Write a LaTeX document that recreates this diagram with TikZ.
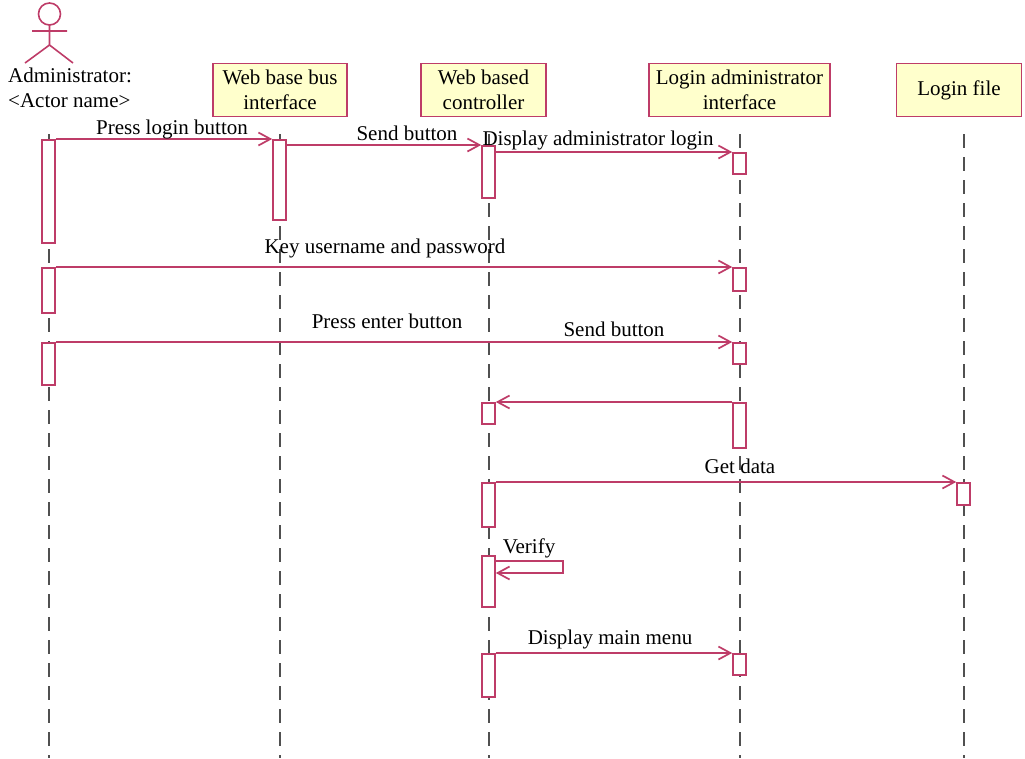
\documentclass[tikz,border=0pt]{standalone}
\usepackage{fontspec}
\setmainfont{Liberation Serif}
\usetikzlibrary{arrows.meta,positioning}
\definecolor{umlred}{RGB}{190,60,104}
\definecolor{umlfill}{RGB}{255,255,204}
\definecolor{lifegray}{RGB}{80,80,80}
\tikzset{
  head/.style={draw=umlred, fill=umlfill, line width=1.7pt, align=center, inner sep=0pt,
    minimum height=53pt, font=\fontsize{21}{25}\selectfont},
  bar/.style={draw=umlred, fill=white, line width=1.6pt, minimum width=13pt, inner sep=0pt, anchor=north},
  msg/.style={draw=umlred, line width=1.7pt, -{Straight Barb[length=12pt,width=13pt]}},
  life/.style={draw=lifegray, line width=2pt, dash pattern=on 14pt off 9pt},
  lbl/.style={font=\fontsize{21}{25}\selectfont, inner sep=0pt, anchor=base}
}
\begin{document}
\begin{tikzpicture}[x=1pt,y=-1pt]
  \useasboundingbox (0,0) rectangle (1025,758);
  % actor
  \draw[umlred, line width=1.6pt] (49.5,14) circle (11)
    (32,31) -- (67,31) (49.5,25) -- (49.5,45) (25,63) -- (49.5,45) -- (73,63);
  \node[anchor=north west, align=left, inner sep=0pt, font=\fontsize{21}{25}\selectfont]
    (admin) at (8,68) {Administrator:\\<Actor name>};
  % object heads
  \node[head, minimum width=134pt] (bus) at (280,90) {Web base bus\\interface};
  \node[head, minimum width=125pt] (ctrl) at (483.5,90) {Web based\\controller};
  \node[head, minimum width=181pt] (loginui) at (739.5,90) {Login administrator\\interface};
  \node[head, minimum width=125pt] (file) at (959,90) {Login file};
  % lifelines
  \foreach \x in {48.5,279.5,488.5,739.5,963.5}
    \draw[life] (\x,134) -- (\x,758);
  % activations
  \foreach \n/\x/\t/\h in {a1/48.5/139/103, a2/48.5/267/45, a3/48.5/342/42,
      b1/279.5/139/80,
      c1/488.5/145/52, c2/488.5/402/21, c3/488.5/482/44, c4/488.5/555/51, c5/488.5/653/43,
      l1/739.5/152/21, l2/739.5/267/23, l3/739.5/342/21, l4/739.5/402/45, l5/739.5/653/21,
      f1/963.5/482/22}
    \node[bar, minimum height=\h] (\n) at (\x,\t) {};
  % messages
  \draw[msg] (a1.north east) -- (b1.north west);
  \node[lbl] at (172,134) {Press login button};
  \draw[msg] (b1.east |- c1.north) -- (c1.north west);
  \node[lbl] at (407,140) {Send button};
  \draw[msg] (c1.east |- l1.north) -- (l1.north west);
  \node[lbl] at (598,145) {Display administrator login};
  \draw[msg] (a2.north east) -- (l2.north west);
  \node[lbl] at (385,253) {Key username and password};
  \draw[msg] (a3.north east) -- (l3.north west);
  \node[lbl] at (387,328) {Press enter button};
  \node[lbl] at (614,336) {Send button};
  \draw[msg] (l4.north west) -- (c2.north east);
  \draw[msg] (c3.north east) -- (f1.north west);
  \node[lbl] at (740,473) {Get data};
  \coordinate (vloop) at (563,573);
  \draw[msg] ([yshift=-6pt]c4.north east) -| (vloop) |- ([yshift=-18pt]c4.north east);
  \node[lbl] at (529,553) {Verify};
  \draw[msg] (c5.north east) -- (l5.north west);
  \node[lbl] at (610,644) {Display main menu};
\end{tikzpicture}
\end{document}
